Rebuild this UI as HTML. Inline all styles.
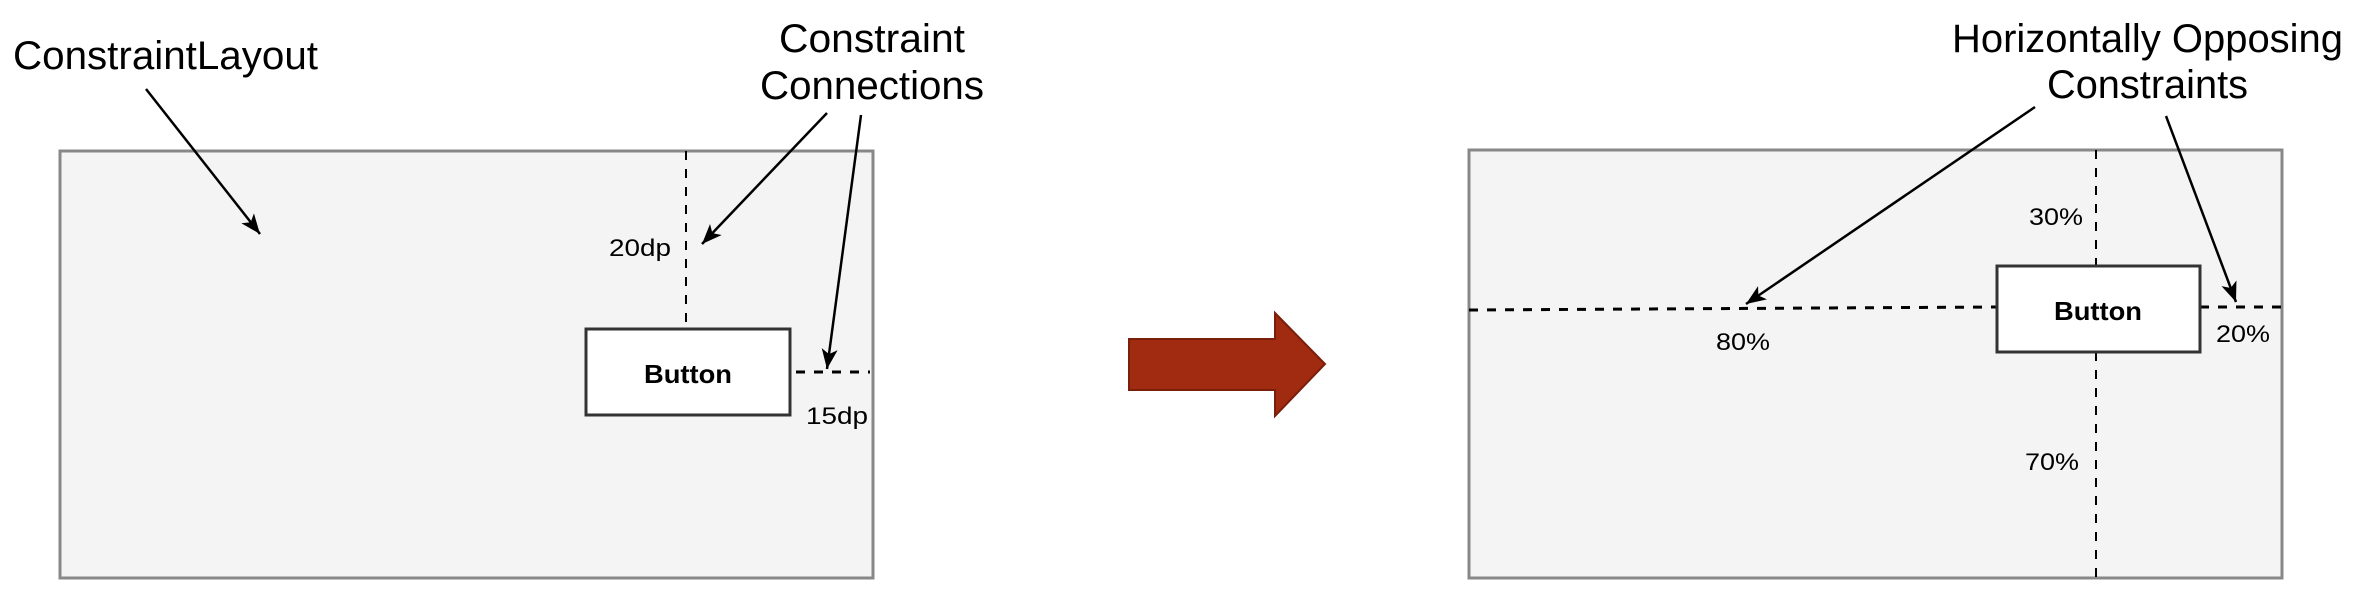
<!DOCTYPE html>
<html><head><meta charset="utf-8"><style>
html,body{margin:0;padding:0;background:#fff;}
svg{display:block;font-family:"Liberation Sans",Arial,sans-serif;}
</style></head><body>
<svg width="2353" height="597" viewBox="0 0 2353 597">
<defs>
<marker id="ah" markerWidth="24" markerHeight="24" refX="20" refY="8" orient="auto" markerUnits="userSpaceOnUse"><path d="M0,0 L20,8 L0,16 L5,8 Z" fill="#000"/></marker>
</defs>
<g>
<rect x="60" y="151" width="813" height="427" fill="#f4f4f4" stroke="#888" stroke-width="3"/>
<line x1="686" y1="151" x2="686" y2="328" stroke="#000" stroke-width="2" stroke-dasharray="9,9"/>
<line x1="796" y1="372" x2="870" y2="372" stroke="#000" stroke-width="3" stroke-dasharray="9,9"/>
<rect x="586" y="329" width="204" height="86" fill="#fff" stroke="#333" stroke-width="3"/>
<text x="688" y="383" font-size="26" font-weight="bold" text-anchor="middle" textLength="88" lengthAdjust="spacingAndGlyphs">Button</text>
<text x="640" y="256" font-size="24" text-anchor="middle" textLength="62" lengthAdjust="spacingAndGlyphs">20dp</text>
<text x="837" y="424" font-size="24" text-anchor="middle" textLength="62" lengthAdjust="spacingAndGlyphs">15dp</text>
<text x="13" y="69" font-size="40" textLength="305" lengthAdjust="spacingAndGlyphs">ConstraintLayout</text>
<text x="779" y="52" font-size="40" textLength="186" lengthAdjust="spacingAndGlyphs">Constraint</text>
<text x="760" y="99" font-size="40" textLength="224" lengthAdjust="spacingAndGlyphs">Connections</text>
<line x1="146" y1="89" x2="260" y2="234" stroke="#000" stroke-width="2.5" marker-end="url(#ah)"/>
<line x1="827" y1="113" x2="702" y2="244" stroke="#000" stroke-width="2.5" marker-end="url(#ah)"/>
<line x1="861" y1="115" x2="827" y2="369" stroke="#000" stroke-width="2.5" marker-end="url(#ah)"/>
</g>
<polygon points="1129,339 1275,339 1275,313 1325,364 1275,416 1275,390 1129,390" fill="#a12b10" stroke="#7a1f0a" stroke-width="2"/>
<g>
<rect x="1469" y="150" width="813" height="428" fill="#f4f4f4" stroke="#888" stroke-width="3"/>
<line x1="2096" y1="150" x2="2096" y2="265" stroke="#000" stroke-width="2" stroke-dasharray="9,9"/>
<line x1="2096" y1="352" x2="2096" y2="578" stroke="#000" stroke-width="2" stroke-dasharray="9,9"/>
<line x1="1469" y1="310" x2="1997" y2="307" stroke="#000" stroke-width="3" stroke-dasharray="9,9"/>
<line x1="2200" y1="307" x2="2282" y2="307" stroke="#000" stroke-width="3" stroke-dasharray="9,9"/>
<rect x="1997" y="266" width="203" height="86" fill="#fff" stroke="#333" stroke-width="3"/>
<text x="2098" y="320" font-size="26" font-weight="bold" text-anchor="middle" textLength="88" lengthAdjust="spacingAndGlyphs">Button</text>
<text x="2056" y="225" font-size="24" text-anchor="middle" textLength="54" lengthAdjust="spacingAndGlyphs">30%</text>
<text x="2052" y="470" font-size="24" text-anchor="middle" textLength="54" lengthAdjust="spacingAndGlyphs">70%</text>
<text x="1743" y="350" font-size="24" text-anchor="middle" textLength="54" lengthAdjust="spacingAndGlyphs">80%</text>
<text x="2243" y="342" font-size="24" text-anchor="middle" textLength="54" lengthAdjust="spacingAndGlyphs">20%</text>
<text x="1952" y="52" font-size="40" textLength="391" lengthAdjust="spacingAndGlyphs">Horizontally Opposing</text>
<text x="2047" y="98" font-size="40" textLength="201" lengthAdjust="spacingAndGlyphs">Constraints</text>
<line x1="2035" y1="107" x2="1746" y2="304" stroke="#000" stroke-width="2.5" marker-end="url(#ah)"/>
<line x1="2166" y1="116" x2="2236" y2="302" stroke="#000" stroke-width="2.5" marker-end="url(#ah)"/>
</g>
</svg>
</body></html>
